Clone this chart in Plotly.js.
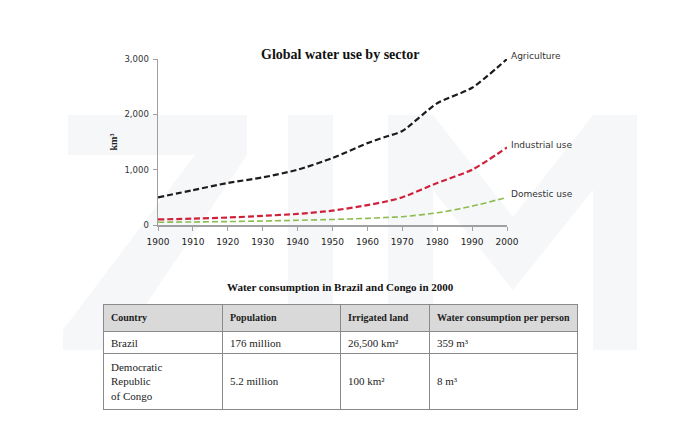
<!DOCTYPE html>
<html><head><meta charset="utf-8">
<script src="https://cdn.plot.ly/plotly-3.0.1.min.js"></script>
<style>html,body{margin:0;padding:0;background:#fff}</style>
</head><body><div id="chart" style="width:700px;height:435px"></div>
<script>
// ---- data ----
const years = [1900, 1910, 1920, 1930, 1940, 1950, 1960, 1965, 1970, 1980, 1990, 2000];
const agriculture = [500, 630, 760, 860, 1000, 1210, 1480, 1590, 1700, 2200, 2480, 3000];
const industrial = [100, 115, 135, 165, 200, 260, 360, 420, 500, 760, 1000, 1400];
const domestic = [50, 55, 62, 72, 85, 100, 120, 135, 150, 220, 340, 500];
const seriesNames = ['Agriculture', 'Industrial use', 'Domestic use'];
const yTicks = [0, 1000, 2000, 3000];
const yTickLabels = ['0', '1,000', '2,000', '3,000'];
const xTicks = [1900, 1910, 1920, 1930, 1940, 1950, 1960, 1970, 1980, 1990, 2000];

const tableHeader = ['Country', 'Population', 'Irrigated land', 'Water consumption per person'];
const countries = ['Brazil', 'Democratic<br>Republic<br>of Congo'];
const population = ['176 million', '5.2 million'];
const irrigated = ['26,500 km²', '100 km²'];
const perPerson = ['359 m³', '8 m³'];

// ---- layout helpers (pixel -> paper) ----
const W = 700, H = 435;
const px = x => x / W, py = y => 1 - y / H;
function path(pts) { return 'M' + pts.map(p => px(p[0]) + ',' + py(p[1])).join(' L') + ' Z'; }
const wm = '#f6f7f9';
const watermark = [
  [[68,115],[247,115],[247,155],[115,350],[63,350],[63,330],[195,155],[68,155]],
  [[288,115],[333,115],[333,400],[288,400]],
  [[388,115],[433,115],[513,217],[593,115],[637,115],[637,350],[593,350],[593,190],[513,290],[433,190],[433,350],[388,350]]
].map(p => ({type:'path', xref:'paper', yref:'paper', path: path(p), fillcolor: wm, line:{width:0}, layer:'below'}));

const serif = 'Liberation Serif, Times New Roman, serif';
const sans = 'DejaVu Sans, Verdana, sans-serif';

const lineColors = ['#1c1c1c', '#d0213a', '#8cbc4e'];
const lineWidths = [2.2, 2.2, 1.6];
const series = [agriculture, industrial, domestic];

const traces = series.map((vals, i) => ({
  type: 'scatter', mode: 'lines', x: years, y: vals, name: seriesNames[i],
  line: {color: lineColors[i], width: lineWidths[i], dash: '6px,3px', shape: 'spline', smoothing: 0.7},
  xaxis: 'x', yaxis: 'y', showlegend: false, hoverinfo: 'skip'
}));

// no automatic wrapping; vertically centre single-line cells in the 3-line row
const nb = s => s.replace(/ /g, '\u00a0');
const fmt = (col, rowIdx) => col.map((v, r) => (r === rowIdx && v.indexOf('<br>') < 0) ? ' <br>' + nb(v) + '<br> ' : nb(v));

traces.push({
  type: 'table',
  domain: {x: [px(103), px(577)], y: [py(411), py(304)]},
  columnwidth: [119, 118, 89, 148],
  header: {
    values: tableHeader.map(t => '<b>' + nb(t) + '</b>'),
    align: 'left', height: 27,
    fill: {color: '#d9d9d9'},
    line: {color: '#8a8a8a', width: 1},
    font: {family: serif, size: 10, color: '#222'}
  },
  cells: {
    values: [fmt(countries, -1), fmt(population, 1), fmt(irrigated, 1), fmt(perPerson, 1)],
    align: 'left', height: 22,
    fill: {color: '#ffffff'},
    line: {color: '#8a8a8a', width: 1},
    font: {family: serif, size: 11, color: '#222'}
  }
});

const annotations = [
  {text: '<b>Global water use by sector</b>', x: px(340), y: py(45), xref:'paper', yref:'paper', showarrow:false, font:{family: serif, size: 14, color:'#111'}},
  {text: '<b>Water consumption in Brazil and Congo in 2000</b>', x: px(340), y: py(287), xref:'paper', yref:'paper', showarrow:false, font:{family: serif, size: 11, color:'#111'}}
];
seriesNames.forEach((n, i) => {
  annotations.push({text: n, x: 2000, y: series[i][series[i].length-1], xref:'x', yref:'y', xanchor:'left', yanchor:'middle', xshift: 2, yshift: 3, showarrow:false, font:{family: sans, size: 9, color:'#333'}});
});

const layout = {
  width: W, height: H,
  margin: {l:0, r:0, t:0, b:0},
  paper_bgcolor: '#fff', plot_bgcolor: 'rgba(0,0,0,0)',
  showlegend: false,
  xaxis: {
    domain: [px(158), px(507)], range: [1900, 2000],
    tickvals: xTicks, ticktext: xTicks.map(String),
    showgrid: false, zeroline: false, showline: true, linecolor: '#a0a0a0', linewidth: 1.5,
    ticks: 'outside', ticklen: 4, tickcolor: '#a0a0a0', ticklabelstandoff: 4,
    tickfont: {family: sans, size: 9, color: '#222'}, anchor: 'y'
  },
  yaxis: {
    domain: [py(225), py(59)], range: [0, 3000],
    tickvals: yTicks, ticktext: yTickLabels,
    showgrid: false, zeroline: false, showline: true, linecolor: '#a0a0a0', linewidth: 1.5,
    ticks: 'outside', ticklen: 4, tickcolor: '#a0a0a0', ticklabelstandoff: 2,
    tickfont: {family: sans, size: 8.5, color: '#333'}, anchor: 'x',
    title: {text: '<b>km³</b>', font: {family: serif, size: 10, color: '#222'}, standoff: 5}
  },
  shapes: watermark,
  annotations: annotations
};

Plotly.newPlot('chart', traces, layout, {displayModeBar: false, staticPlot: true});
</script></body></html>
